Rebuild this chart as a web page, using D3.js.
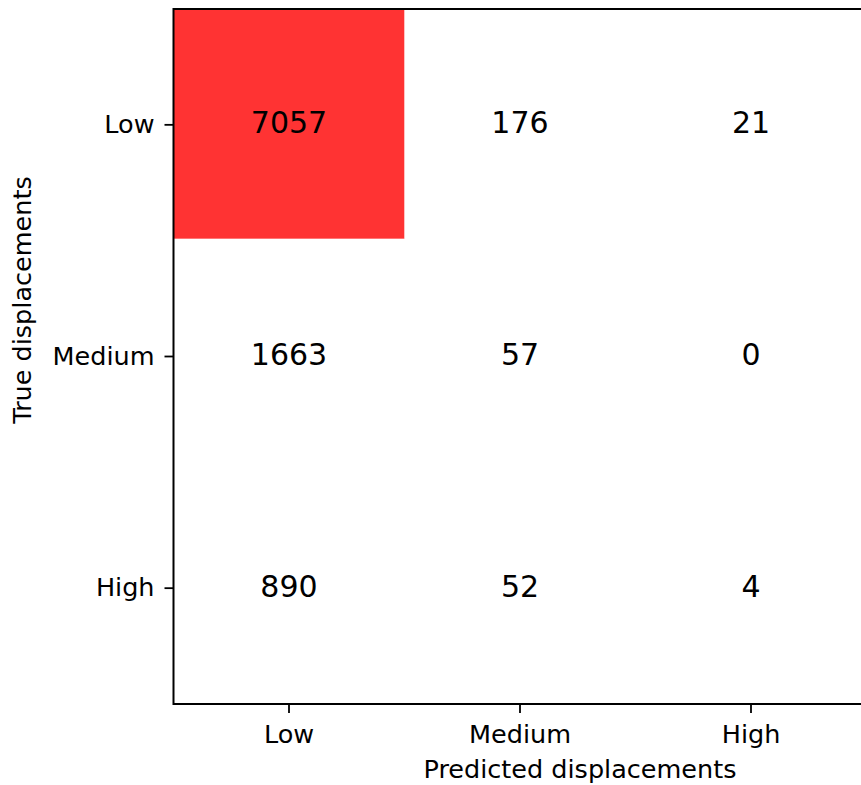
<!DOCTYPE html>
<html>
<head>
<meta charset="utf-8">
<script src="https://cdn.jsdelivr.net/npm/d3@7"></script>
<style>
  html, body { margin: 0; padding: 0; background: #fff; }
  svg { display: block; }
  text { font-family: "DejaVu Sans", sans-serif; fill: #000; }
</style>
</head>
<body>
<svg id="chart" width="861" height="785"></svg>
<script>
// Confusion matrix: rows = true class, columns = predicted class
const trueClasses = ["Low", "Medium", "High"];
const predictedClasses = ["Low", "Medium", "High"];
const counts = [
  [7057, 176, 21],
  [1663, 57, 0],
  [890, 52, 4]
];
const xAxisTitle = "Predicted displacements";
const yAxisTitle = "True displacements";

const svg = d3.select("#chart");
const plotLeft = 173.5, plotTop = 9, plotBottom = 704, cellW = 231;

const x = d3.scaleBand().domain(predictedClasses).range([plotLeft, plotLeft + cellW * predictedClasses.length]);
const y = d3.scaleBand().domain(trueClasses).range([plotTop, plotBottom]);

// two-colour map: white below half the maximum, red above
const maxCount = d3.max(counts.flat());
const color = d3.scaleQuantize().domain([0, maxCount]).range(["#ffffff", "#ff0000"]);

const cells = [];
trueClasses.forEach((t, i) => predictedClasses.forEach((p, j) => cells.push({ t, p, v: counts[i][j] })));

svg.append("g").selectAll("rect").data(cells).join("rect")
  .attr("x", d => x(d.p))
  .attr("y", d => y(d.t))
  .attr("width", x.bandwidth())
  .attr("height", y.bandwidth() - 2)
  .attr("fill", d => color(d.v))
  .attr("fill-opacity", 0.8);

svg.append("g").selectAll("text").data(cells).join("text")
  .attr("x", d => x(d.p) + x.bandwidth() / 2)
  .attr("y", d => y(d.t) + y.bandwidth() / 2)
  .attr("dy", "0.28em")
  .attr("text-anchor", "middle")
  .style("font-size", "30px")
  .text(d => d.v);

// axes
const xAxis = d3.axisBottom(x).tickSize(9).tickPadding(12).tickSizeOuter(0);
const yAxis = d3.axisLeft(y).tickSize(9).tickPadding(10).tickSizeOuter(0);

const gx = svg.append("g").attr("transform", `translate(0,${plotBottom})`).call(xAxis);
const gy = svg.append("g").attr("transform", `translate(${plotLeft},0)`).call(yAxis);
[gx, gy].forEach(g => {
  g.select(".domain").remove();
  g.selectAll(".tick line").attr("stroke", "#000").attr("stroke-width", 1.8);
  g.selectAll(".tick text").style("font-size", "25.5px").attr("fill", "#000")
    .style("font-family", "'DejaVu Sans', sans-serif");
});

// frame
svg.append("rect")
  .attr("x", plotLeft).attr("y", plotTop)
  .attr("width", cellW * predictedClasses.length).attr("height", plotBottom - plotTop)
  .attr("fill", "none").attr("stroke", "#000").attr("stroke-width", 2);

// axis titles
svg.append("text")
  .attr("x", 580).attr("y", 778)
  .attr("text-anchor", "middle")
  .style("font-size", "25.5px")
  .text(xAxisTitle);

svg.append("text")
  .attr("transform", "translate(31,300) rotate(-90)")
  .attr("text-anchor", "middle")
  .style("font-size", "25.5px")
  .text(yAxisTitle);
</script>
</body>
</html>
